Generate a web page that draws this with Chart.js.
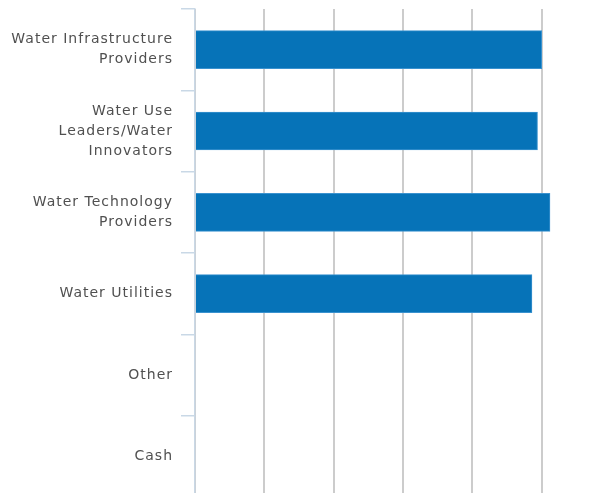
<!DOCTYPE html>
<html>
<head>
<meta charset="utf-8">
<script src="https://cdn.jsdelivr.net/npm/chart.js@4"></script>
<style>
  html, body { margin: 0; padding: 0; background: #fff; overflow: hidden; }
  #wrap { width: 611px; height: 493px; overflow: hidden; }
</style>
</head>
<body>
<div id="wrap"><canvas id="chart" width="611" height="497"></canvas></div>
<script>
const categories = [
  ["Water Infrastructure", "Providers"],
  ["Water Use", "Leaders/Water", "Innovators"],
  ["Water Technology", "Providers"],
  ["Water Utilities"],
  ["Other"],
  ["Cash"],
];
const weights = [25.0, 24.7, 25.6, 24.3, 0, 0];
const xTicks = [0, 5, 10, 15, 20, 25];

const ctx = document.getElementById("chart").getContext("2d");

// wider letter spacing like the original labels
const spacing = {
  id: "spacing",
  beforeUpdate: (chart) => {
    chart.ctx.letterSpacing = "1px";
  },
  beforeDraw: (chart) => {
    chart.ctx.letterSpacing = "1px";
  },
};

new Chart(ctx, {
  type: "bar",
  data: {
    labels: categories,
    datasets: [
      {
        data: weights,
        backgroundColor: "#0673b8",
        borderColor: "#3a92cf",
        borderWidth: 1,
        barThickness: 38,
      },
    ],
  },
  plugins: [spacing],
  options: {
    indexAxis: "y",
    responsive: false,
    animation: false,
    layout: { padding: { top: 9, right: 0, bottom: 0, left: 0 } },
    plugins: {
      legend: { display: false },
      tooltip: { enabled: false },
    },
    scales: {
      x: {
        min: 0,
        max: 30,
        afterBuildTicks: (axis) => {
          axis.ticks = xTicks.map((v) => ({ value: v }));
        },
        afterFit: (axis) => {
          axis.height = 0;
          axis.paddingLeft = 0;
          axis.paddingRight = 0;
        },
        ticks: { display: false },
        border: { display: false },
        grid: {
          color: "#cccccc",
          lineWidth: 2,
          drawTicks: false,
        },
      },
      y: {
        afterFit: (axis) => {
          axis.width = 195;
          axis.paddingTop = 0;
          axis.paddingBottom = 0;
        },
        border: { color: "#c9d8e6", width: 1.5 },
        grid: {
          drawOnChartArea: false,
          color: "#c9d8e6",
          lineWidth: 1.5,
          tickLength: 14,
        },
        ticks: {
          color: "#505050",
          padding: 8,
          font: { family: "DejaVu Sans", size: 14, lineHeight: 1.43 },
        },
      },
    },
  },
});
</script>
</body>
</html>
